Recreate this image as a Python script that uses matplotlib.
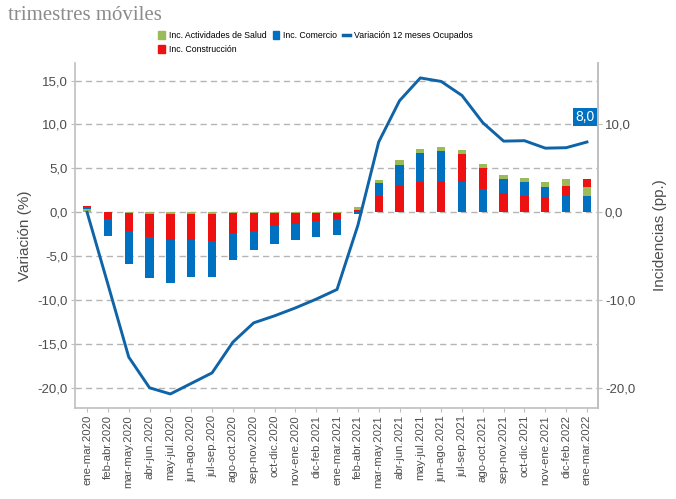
import matplotlib
matplotlib.use("Agg")
import matplotlib.pyplot as plt
from matplotlib.patches import Patch
from matplotlib.lines import Line2D

plt.rcParams['font.family'] = ['Liberation Sans', 'DejaVu Sans']

periodos = ['ene-mar.2020', 'feb-abr.2020', 'mar-may.2020', 'abr-jun.2020', 'may-jul.2020',
            'jun-ago.2020', 'jul-sep.2020', 'ago-oct.2020', 'sep-nov.2020', 'oct-dic.2020',
            'nov-ene.2020', 'dic-feb.2021', 'ene-mar.2021', 'feb-abr.2021', 'mar-may.2021',
            'abr-jun.2021', 'may-jul.2021', 'jun-ago.2021', 'jul-sep.2021', 'ago-oct.2021',
            'sep-nov.2021', 'oct-dic.2021', 'nov-ene.2021', 'dic-feb.2022', 'ene-mar.2022']

inc_salud = [0.4, 0.0, -0.1, -0.2, -0.15, -0.15, -0.25, -0.1, -0.1, -0.1, -0.05, -0.05, -0.05,
             0.25, 0.4, 0.5, 0.5, 0.4, 0.5, 0.5, 0.4, 0.5, 0.55, 0.8, 1.05]
inc_construccion = [0.1, -0.8, -2.0, -2.6, -3.0, -3.0, -3.0, -2.3, -2.05, -1.5, -1.3, -0.95, -0.75,
                    0.3, 1.9, 3.0, 3.4, 3.55, 3.2, 2.45, 2.2, 1.85, 1.7, 1.15, 0.98]
inc_comercio = [0.2, -1.9, -3.8, -4.7, -4.9, -4.2, -4.1, -3.0, -2.15, -2.0, -1.8, -1.8, -1.75,
                -0.2, 1.4, 2.4, 3.3, 3.45, 3.4, 2.6, 1.6, 1.55, 1.2, 1.8, 1.8]
var_ocupados = [0.0, -8.2, -16.5, -20.0, -20.7, -19.5, -18.3, -14.8, -12.6, -11.8, -10.9, -9.9, -8.8,
                -1.5, 8.0, 12.7, 15.3, 14.9, 13.3, 10.2, 8.1, 8.15, 7.3, 7.35, 8.0]

c_salud = '#9bbb59'
c_constr = '#ee1111'
c_comercio = '#0070c0'
c_linea = '#0f63a7'
c_eje = '#bfbfbf'
c_txt = '#4d4d4d'

fig = plt.figure(figsize=(6.76, 4.99), dpi=100)
ax = fig.add_axes([75/676, 1-408/499, (598-75)/676, (408-63)/499])

x = list(range(len(periodos)))
ancho = 0.4

# barras apiladas, el mayor valor junto al cero
for i in x:
    vals = [(inc_salud[i], c_salud), (inc_construccion[i], c_constr), (inc_comercio[i], c_comercio)]
    vals.sort(key=lambda t: t[0], reverse=True)
    pos, neg = 0.0, 0.0
    for v, c in vals:
        if v >= 0:
            ax.bar(i, v, bottom=pos, width=ancho, color=c, zorder=3)
            pos += v
    for v, c in vals:
        if v < 0:
            ax.bar(i, v, bottom=neg, width=ancho, color=c, zorder=3)
            neg += v

ax.plot(x, var_ocupados, color=c_linea, lw=2.1, zorder=4, solid_joinstyle='round')

ax.annotate('8,0', (x[-1], var_ocupados[-1]), xytext=(-2, 25), textcoords='offset pixels',
            ha='center', va='center', color='white', fontsize=10, zorder=5,
            bbox=dict(boxstyle='square,pad=0.15', fc=c_comercio, ec='none'))

ax.set_xlim(-0.58, len(periodos) - 1 + 0.53)
ax.set_ylim(-22.3, 17.0)
yt = [-20, -15, -10, -5, 0, 5, 10, 15]
ax.set_yticks(yt)
ax.set_yticklabels([f'{v:.1f}'.replace('.', ',') for v in yt])
for v in yt:
    ax.axhline(v, color='#b5b5b5', lw=1, dashes=(4.5, 3), zorder=1)

ax.set_xticks(x)
ax.set_xticklabels(periodos, rotation=90, fontsize=8.2, color=c_txt)
ax.tick_params(axis='y', labelsize=9.5, labelcolor=c_txt, color=c_eje, length=3, pad=2)
ax.tick_params(axis='x', color=c_eje, length=3, pad=2)
for s in ['left', 'bottom', 'right']:
    ax.spines[s].set_color(c_eje)
    ax.spines[s].set_linewidth(1.2)
ax.spines['top'].set_visible(False)
ax.set_ylabel('Variación (%)', fontsize=11, color=c_txt, labelpad=4)

ax2 = ax.twinx()
ax2.set_ylim(ax.get_ylim())
yt2 = [-20, -10, 0, 10]
ax2.set_yticks(yt2)
ax2.set_yticklabels([f'{v:.1f}'.replace('.', ',') for v in yt2])
ax2.tick_params(axis='y', labelsize=9.5, labelcolor=c_txt, color=c_eje, length=3, pad=2)
for s in ['left', 'bottom', 'top']:
    ax2.spines[s].set_visible(False)
ax2.spines['right'].set_color(c_eje)
ax2.spines['right'].set_linewidth(1.2)
ax2.set_ylabel('Incidencias (pp.)', fontsize=11, color=c_txt, labelpad=13)

handles = [Patch(color=c_salud), Patch(color=c_constr), Patch(color=c_comercio),
           Line2D([0], [0], color=c_linea, lw=2.5)]
labels = ['Inc. Actividades de Salud', 'Inc. Construcción', 'Inc. Comercio',
          'Variación 12 meses Ocupados']
fig.legend(handles, labels, loc='upper left', bbox_to_anchor=(154/676, 1-27/499), ncol=3,
           frameon=False, fontsize=6.3, handlelength=0.75, handleheight=1.0,
           handletextpad=0.45, columnspacing=0.7, labelspacing=0.55, borderpad=0)

fig.text(8/676, 1-15/499, 'trimestres móviles', family=['Liberation Serif', 'DejaVu Serif'],
         fontsize=15, color='#8c8c8c', va='center', ha='left')

fig.savefig('out.png', dpi=100)
